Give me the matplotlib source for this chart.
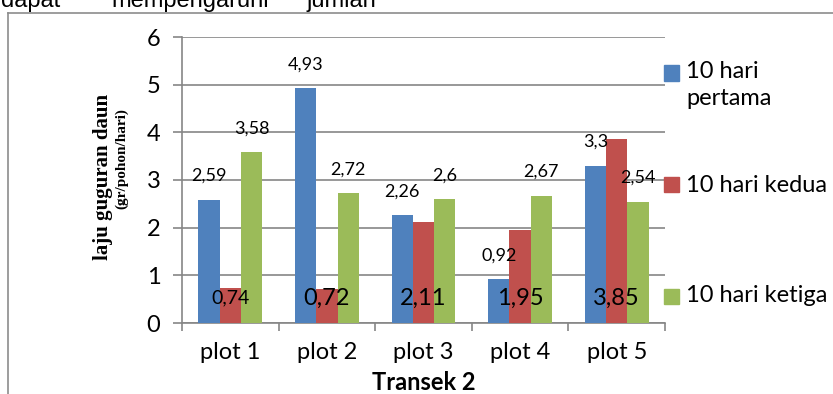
#!/usr/bin/env python3
# -*- coding: utf-8 -*-
"""Laju guguran daun - Transek 2 (grafik batang)"""

import numpy as np
import matplotlib
matplotlib.use("Agg")
import matplotlib.pyplot as plt
from matplotlib.patches import Rectangle
from matplotlib.lines import Line2D

# data
plots = ["plot 1", "plot 2", "plot 3", "plot 4", "plot 5"]
series_names = ["10 hari\npertama", "10 hari kedua", "10 hari ketiga"]
pertama = [2.59, 4.93, 2.26, 0.92, 3.30]
kedua = [0.74, 0.72, 2.11, 1.95, 3.85]
ketiga = [3.58, 2.72, 2.60, 2.67, 2.54]
colors = ["#4F81BD", "#C0504D", "#9BBB59"]

W, H = 833, 394
GRAY = "#868686"
SANS = ["Lato", "DejaVu Sans"]


def fx(px):
    return px / W


def fy(py):
    return 1 - py / H


def fmt(v):
    return f"{v:g}".replace(".", ",")


fig = plt.figure(figsize=(W / 100, H / 100), dpi=100)
fig.patch.set_facecolor("white")

# potongan teks dokumen di atas (terpotong seperti aslinya)
for word, xc in [("dapat", 31), ("mempengaruhi", 190), ("jumlah", 341)]:
    fig.text(fx(xc), fy(7), word, ha="center", va="baseline",
             fontsize=17, family="Liberation Sans", color="black")

# bingkai
fig.add_artist(Line2D([fx(8), fx(8)], [fy(13), 0], color="#8c8c8c", lw=1.2))
fig.add_artist(Line2D([fx(8), 1], [fy(13), fy(13)], color="#8c8c8c", lw=1.2))

ax = fig.add_axes([fx(182), fy(323), fx(665) - fx(182), fy(37) - fy(323)])

x = np.arange(len(plots))
bw = 0.22
ax.bar(x - bw, pertama, bw, color=colors[0], zorder=3)
ax.bar(x, kedua, bw, color=colors[1], zorder=3)
ax.bar(x + bw, ketiga, bw, color=colors[2], zorder=3)

ax.set_xlim(-0.5, len(plots) - 0.5)
ax.set_ylim(0, 6)
ax.set_yticks(range(0, 7))
ax.grid(axis="y", color=GRAY, lw=1.2, zorder=0)
ax.set_axisbelow(True)
for s in ["top", "right"]:
    ax.spines[s].set_visible(False)
for s in ["left", "bottom"]:
    ax.spines[s].set_color(GRAY)
    ax.spines[s].set_linewidth(1.2)

ax.set_xticks(x)
ax.set_xticklabels(plots)
ax.set_xticks(np.arange(-0.5, len(plots)), minor=True)
ax.tick_params(axis="x", which="major", length=0, pad=14, labelsize=17)
ax.tick_params(axis="x", which="minor", length=6, width=1.2, color=GRAY)
ax.tick_params(axis="y", length=6.5, width=1.2, color=GRAY, pad=9, labelsize=17)
for lab in ax.get_xticklabels() + ax.get_yticklabels():
    lab.set_family(SANS)

# label nilai
for i in range(len(plots)):
    ax.text(x[i] - bw, pertama[i] + 0.5, fmt(pertama[i]), ha="center",
            va="center", fontsize=13, family=SANS)
    ax.text(x[i] + bw, ketiga[i] + 0.5, fmt(ketiga[i]), ha="center",
            va="center", fontsize=13, family=SANS)
    ax.text(x[i], 0.52, fmt(kedua[i]), ha="center", va="center",
            fontsize=14 if i == 0 else 17, family=SANS, zorder=5)

# judul sumbu
fig.text(fx(424), fy(382), "Transek 2", ha="center", va="center",
         fontsize=17, fontweight="bold", family=SANS)
fig.text(fx(103), fy(177), "laju guguran daun", rotation=90, ha="center",
         va="center", fontsize=15, fontweight="bold", family="Liberation Serif")
fig.text(fx(122), fy(159), "(gr/pohon/hari)", rotation=90, ha="center",
         va="center", fontsize=11, fontweight="bold", family="Liberation Serif")

# legenda
leg_y = [73, 185, 296]
for name, c, ly in zip(series_names, colors, leg_y):
    fig.add_artist(Rectangle((fx(664), fy(ly + 7.5)), fx(15), 15 / H,
                             color=c, transform=fig.transFigure))
    if "\n" in name:
        fig.text(fx(686), fy(ly - 12), name, ha="left", va="top",
                 fontsize=17, family=SANS, linespacing=1.35)
    else:
        fig.text(fx(686), fy(ly), name, ha="left", va="center",
                 fontsize=17, family=SANS)

fig.savefig("out.png", dpi=100)
